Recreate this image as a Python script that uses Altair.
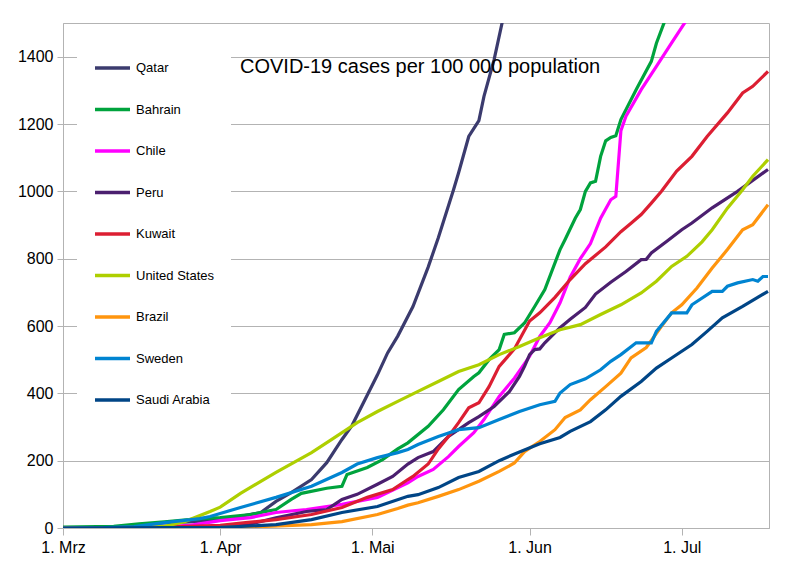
import altair as alt
import pandas as pd

# ---- data (day offsets from 1 March 2020, cases per 100 000) ----
countries = ["Qatar", "Bahrain", "Chile", "Peru", "Kuwait", "United States",
             "Brazil", "Sweden", "Saudi Arabia"]
colors = ["#3b3b6e", "#00a33d", "#ff00ff", "#4b1f6f", "#dc1e32", "#aecf00",
          "#ff950e", "#0084d1", "#004586"]

qatar_days = [0, 10, 15, 20, 25, 31, 35, 39, 42, 45, 49, 52, 55, 57, 60, 62, 64, 66, 69, 72, 74, 77, 78, 80, 82, 83, 85, 87]
qatar_vals = [0, 1, 10, 15, 18, 25, 35, 46, 79, 105, 144, 194, 263, 305, 395, 455, 520, 570, 658, 775, 862, 1005, 1055, 1163, 1210, 1282, 1391, 1530]

bahrain_days = [0, 10, 15, 20, 27, 31, 37, 42, 45, 47, 52, 55, 56, 60, 63, 66, 68, 72, 75, 78, 81, 82, 84, 86, 87, 89, 91, 93, 95, 98, 99, 101, 102, 103, 104, 105, 106, 107, 108, 109, 110, 113, 116, 117, 119]
bahrain_vals = [3, 5, 12, 18, 28, 31, 40, 55, 85, 103, 118, 124, 159, 180, 203, 235, 253, 302, 351, 411, 450, 461, 500, 530, 575, 580, 609, 658, 708, 827, 857, 920, 946, 1000, 1025, 1030, 1104, 1150, 1160, 1165, 1213, 1302, 1386, 1440, 1520]

chile_days = [0, 15, 25, 31, 37, 42, 48, 55, 62, 68, 70, 73, 76, 78, 81, 83, 86, 89, 92, 94, 96, 98, 100, 102, 104, 106, 108, 109, 110, 111, 114, 117, 120, 123]
chile_vals = [0, 1, 8, 22, 31, 46, 55, 70, 91, 134, 153, 174, 212, 242, 283, 322, 391, 445, 510, 569, 610, 669, 745, 800, 845, 920, 975, 985, 1180, 1223, 1302, 1371, 1441, 1510]

peru_days = [0, 20, 31, 37, 42, 48, 52, 55, 58, 62, 65, 68, 70, 73, 76, 80, 82, 85, 88, 90, 91, 92, 93, 94, 95, 98, 100, 103, 105, 108, 111, 114, 115, 116, 119, 122, 124, 128, 133, 139]
peru_vals = [0, 1, 4, 12, 30, 49, 55, 85, 100, 130, 153, 190, 209, 227, 272, 313, 331, 361, 405, 450, 480, 515, 530, 532, 550, 595, 620, 655, 695, 730, 762, 797, 798, 817, 851, 886, 906, 951, 1000, 1065]

kuwait_days = [0, 20, 31, 36, 42, 49, 55, 60, 65, 68, 69, 72, 74, 76, 78, 80, 82, 84, 86, 89, 92, 94, 97, 100, 103, 107, 110, 112, 114, 116, 118, 121, 124, 127, 131, 134, 136, 139]
kuwait_vals = [0, 3, 8, 16, 25, 40, 61, 91, 114, 144, 153, 190, 235, 272, 313, 357, 372, 420, 480, 532, 615, 639, 685, 738, 785, 835, 880, 905, 931, 965, 1000, 1060, 1104, 1163, 1233, 1292, 1312, 1356]

us_days = [0, 15, 20, 24, 29, 31, 35, 42, 49, 53, 58, 62, 66, 70, 74, 78, 82, 86, 90, 94, 98, 102, 106, 110, 114, 117, 120, 123, 126, 128, 131, 134, 136, 139]
us_vals = [0, 1, 5, 19, 49, 62, 103, 165, 224, 263, 313, 346, 376, 406, 435, 465, 485, 515, 539, 565, 589, 604, 634, 663, 698, 733, 777, 807, 850, 886, 950, 1005, 1045, 1094]

brazil_days = [0, 30, 40, 49, 55, 62, 66, 68, 70, 74, 78, 82, 86, 89, 91, 94, 97, 99, 102, 104, 107, 110, 112, 115, 118, 120, 122, 125, 128, 131, 134, 136, 139]
brazil_vals = [0, 1, 5, 10, 19, 40, 58, 68, 75, 94, 114, 139, 168, 193, 227, 257, 292, 328, 351, 381, 420, 460, 505, 536, 599, 639, 663, 713, 772, 827, 886, 901, 960]

sweden_days = [0, 8, 14, 20, 27, 29, 35, 42, 49, 55, 58, 62, 66, 68, 70, 74, 78, 82, 86, 90, 94, 97, 98, 100, 103, 106, 108, 110, 113, 116, 117, 120, 123, 124, 128, 130, 131, 133, 136, 137, 138, 139]
sweden_vals = [0, 1, 4, 16, 28, 34, 61, 91, 124, 165, 190, 209, 224, 233, 248, 272, 292, 298, 322, 346, 366, 376, 401, 426, 443, 470, 495, 515, 550, 550, 584, 639, 639, 663, 703, 703, 718, 728, 738, 733, 747, 747]

saudi_days = [0, 20, 31, 37, 42, 49, 55, 62, 68, 70, 74, 78, 82, 86, 90, 94, 98, 100, 104, 107, 110, 114, 117, 120, 124, 127, 130, 134, 139]
saudi_vals = [0, 1, 2, 6, 10, 25, 46, 64, 94, 99, 120, 150, 168, 200, 226, 250, 269, 287, 316, 351, 391, 435, 475, 505, 545, 584, 624, 658, 703]

tick_days = [0, 31, 61, 92, 122]
tick_labels = ["1. Mrz", "1. Apr", "1. Mai", "1. Jun", "1. Jul"]
y_ticks = [0, 200, 400, 600, 800, 1000, 1200, 1400]

series = {
    "Qatar": (qatar_days, qatar_vals),
    "Bahrain": (bahrain_days, bahrain_vals),
    "Chile": (chile_days, chile_vals),
    "Peru": (peru_days, peru_vals),
    "Kuwait": (kuwait_days, kuwait_vals),
    "United States": (us_days, us_vals),
    "Brazil": (brazil_days, brazil_vals),
    "Sweden": (sweden_days, sweden_vals),
    "Saudi Arabia": (saudi_days, saudi_vals),
}

rows = []
for name, (ds, vs) in series.items():
    for d, v in zip(ds, vs):
        rows.append({"country": name, "day": d, "value": v})
df = pd.DataFrame(rows)

label_expr = " : ".join(
    f"datum.value == {d} ? '{l}'" for d, l in zip(tick_days, tick_labels)
) + " : ''"

FONT = "Liberation Sans"
GRID = "#b3b3b3"

chart = alt.Chart(df).mark_line(strokeWidth=3.2, clip=True).encode(
    x=alt.X("day:Q",
            scale=alt.Scale(domain=[0, 139.2], nice=False, zero=False),
            axis=alt.Axis(values=tick_days, labelExpr=label_expr, title=None,
                          grid=False, tickSize=7, tickColor=GRID,
                          domainColor=GRID, labelFont=FONT, labelFontSize=16,
                          labelColor="black", labelPadding=4,
                          labelFlush=False, labelOverlap=False)),
    y=alt.Y("value:Q",
            scale=alt.Scale(domain=[0, 1500], nice=False),
            axis=alt.Axis(values=y_ticks, format="d", title=None, grid=True,
                          gridColor=GRID, tickSize=6, tickColor=GRID,
                          domainColor=GRID, labelFont=FONT, labelFontSize=16,
                          labelColor="black", labelPadding=4,
                          labelFlush=False)),
    color=alt.Color("country:N",
                    scale=alt.Scale(domain=countries, range=colors),
                    sort=countries,
                    legend=alt.Legend(orient="none", legendX=14, legendY=9.5,
                                      title=None, symbolType="stroke",
                                      symbolSize=1225, symbolStrokeWidth=3.5,
                                      labelFont=FONT, labelFontSize=13,
                                      labelColor="black", labelOffset=4,
                                      rowPadding=14.5, padding=16,
                                      fillColor="white")),
).properties(
    width=706,
    height=505,
    autosize=alt.AutoSizeParams(type="none"),
    padding={"left": 55, "top": 15, "right": 14, "bottom": 29},
    title=alt.TitleParams(text="COVID-19 cases per 100 000 population",
                          anchor="start", frame="group", font=FONT,
                          fontSize=20, fontWeight="normal", color="black",
                          dx=177, dy=70, offset=0, baseline="alphabetic"),
).configure_view(stroke=GRID, strokeWidth=1)

chart.save("out.html", embed_options={"renderer": "svg", "actions": False})
